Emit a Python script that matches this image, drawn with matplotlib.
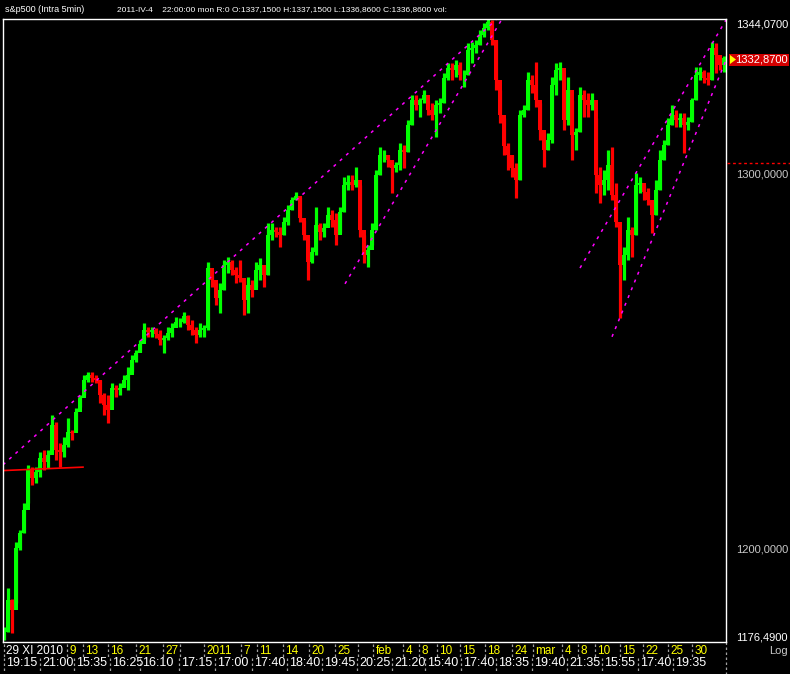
"""
s&p500 intraday 5min candles, dark terminal style
"""
import numpy as np
from matplotlib import pyplot as plt
from matplotlib.lines import Line2D
from matplotlib.patches import Rectangle, Polygon
from matplotlib.ticker import NullLocator

plt.rcParams['font.family'] = ['Liberation Sans Narrow', 'Liberation Sans', 'DejaVu Sans']

UP = '#00ff00'
DOWN = '#ff0000'
MAGENTA = '#ff00ff'
GRAY = '#c8c8c8'
YELLOW = '#ffff00'

first_open = 1178.0
highs = [1180.3, 1190.2, 1187.4, 1201.9, 1205.0, 1212.0, 1221.9, 1221.3, 1221.3, 1225.3,
         1225.8, 1225.8, 1235.0, 1233.2, 1227.6, 1229.2, 1234.2, 1231.0, 1236.8, 1240.3,
         1245.6, 1246.4, 1246.4, 1245.6, 1244.3, 1240.8, 1240.3, 1243.5, 1242.9, 1243.5,
         1245.6, 1247.7, 1250.9, 1252.3, 1255.0, 1259.5, 1258.4, 1258.4, 1258.2, 1257.6,
         1256.3, 1258.4, 1259.5, 1261.1, 1260.9, 1262.5, 1261.7, 1260.3, 1258.4, 1259.5,
         1259.0, 1276.0, 1273.9, 1270.3, 1270.3, 1276.6, 1277.4, 1276.6, 1274.7, 1276.6,
         1271.1, 1272.0, 1271.1, 1276.0, 1277.1, 1274.7, 1286.7, 1286.7, 1285.6, 1285.6,
         1288.4, 1291.7, 1293.9, 1295.3, 1293.9, 1287.6, 1282.1, 1280.1, 1291.1, 1286.7,
         1286.7, 1291.1, 1290.3, 1289.5, 1291.1, 1299.4, 1300.0, 1300.0, 1302.2, 1297.2,
         1283.4, 1280.7, 1286.7, 1301.4, 1307.8, 1307.0, 1305.6, 1304.2, 1303.6, 1308.9,
         1308.4, 1315.4, 1322.4, 1322.4, 1321.6, 1323.8, 1321.0, 1320.2, 1321.0, 1321.6,
         1328.7, 1331.5, 1331.5, 1332.3, 1331.8, 1329.5, 1337.2, 1337.5, 1338.1, 1340.9,
         1342.9, 1344.1, 1343.8, 1338.1, 1323.8, 1315.9, 1308.9, 1305.6, 1303.3, 1318.2,
         1319.6, 1328.9, 1328.1, 1331.8, 1320.2, 1311.7, 1311.7, 1327.5, 1331.5, 1331.8,
         1327.2, 1327.5, 1321.0, 1313.1, 1324.7, 1323.8, 1323.0, 1323.0, 1315.9, 1302.2,
         1301.4, 1307.0, 1307.8, 1297.8, 1280.7, 1280.1, 1288.4, 1285.6, 1300.5, 1299.4,
         1297.2, 1296.4, 1293.1, 1298.6, 1307.0, 1309.8, 1315.9, 1319.6, 1318.2, 1317.3,
         1317.3, 1316.2, 1321.6, 1330.4, 1330.4, 1329.5, 1329.0, 1337.5, 1337.2, 1332.9,
         1333.5]
lows = [1177.0, 1179.0, 1178.8, 1186.4, 1199.9, 1204.2, 1212.0, 1216.7, 1217.2, 1218.7,
        1220.6, 1221.1, 1226.6, 1223.2, 1221.3, 1224.0, 1226.6, 1228.4, 1231.0, 1237.1,
        1240.3, 1243.7, 1243.7, 1243.5, 1238.2, 1235.0, 1232.9, 1239.8, 1239.8, 1240.3,
        1242.4, 1241.6, 1246.4, 1249.1, 1251.7, 1255.0, 1255.8, 1255.8, 1255.5, 1253.6,
        1251.5, 1255.0, 1255.8, 1258.4, 1258.4, 1259.5, 1257.6, 1256.3, 1254.2, 1255.8,
        1255.8, 1257.6, 1269.2, 1264.4, 1262.2, 1268.4, 1273.0, 1272.5, 1270.3, 1270.6,
        1261.7, 1262.2, 1266.5, 1269.2, 1271.1, 1269.2, 1272.5, 1282.1, 1282.9, 1280.1,
        1283.4, 1286.2, 1290.3, 1293.1, 1287.0, 1282.1, 1271.1, 1275.8, 1278.0, 1282.1,
        1282.9, 1285.6, 1285.6, 1280.7, 1284.0, 1289.8, 1295.8, 1295.8, 1296.7, 1282.9,
        1275.8, 1274.7, 1280.7, 1284.8, 1300.0, 1303.6, 1302.2, 1295.0, 1300.8, 1301.4,
        1301.9, 1306.4, 1314.0, 1318.2, 1316.2, 1320.2, 1316.8, 1315.4, 1310.6, 1317.3,
        1320.2, 1326.7, 1326.7, 1327.5, 1326.7, 1324.7, 1328.1, 1331.5, 1334.3, 1336.6,
        1338.9, 1340.9, 1336.6, 1323.8, 1314.5, 1305.6, 1301.4, 1299.4, 1293.6, 1298.6,
        1316.2, 1318.2, 1323.0, 1319.0, 1309.8, 1302.2, 1307.0, 1308.9, 1322.4, 1326.7,
        1312.6, 1314.0, 1304.2, 1307.0, 1312.0, 1316.2, 1316.2, 1318.2, 1295.0, 1292.2,
        1294.4, 1295.8, 1293.1, 1285.6, 1260.9, 1271.1, 1276.6, 1277.4, 1283.4, 1295.0,
        1293.1, 1291.7, 1284.0, 1288.9, 1295.8, 1304.2, 1308.4, 1314.0, 1313.4, 1313.4,
        1306.1, 1312.6, 1314.8, 1321.0, 1326.7, 1325.8, 1325.3, 1326.7, 1328.7, 1329.5,
        1328.9]
closes = [1179.0, 1187.1, 1184.6, 1200.4, 1204.2, 1210.2, 1220.6, 1218.5, 1220.0, 1223.7,
          1222.7, 1224.5, 1232.4, 1225.8, 1225.3, 1227.1, 1230.5, 1230.2, 1235.8, 1239.5,
          1244.3, 1245.6, 1244.8, 1244.3, 1240.3, 1237.6, 1236.3, 1242.1, 1241.6, 1242.1,
          1244.3, 1245.6, 1249.6, 1251.5, 1253.9, 1257.6, 1257.1, 1257.6, 1256.6, 1255.0,
          1255.5, 1256.8, 1258.2, 1259.8, 1259.8, 1261.4, 1259.0, 1257.6, 1256.3, 1257.6,
          1258.2, 1274.4, 1271.1, 1266.3, 1268.4, 1275.2, 1276.0, 1273.9, 1272.5, 1271.7,
          1265.7, 1269.8, 1268.4, 1273.9, 1275.2, 1272.5, 1283.4, 1284.8, 1284.3, 1283.4,
          1287.0, 1290.3, 1293.1, 1294.2, 1288.1, 1283.4, 1276.0, 1278.8, 1286.2, 1284.3,
          1285.4, 1288.9, 1287.6, 1283.4, 1289.8, 1297.2, 1298.0, 1297.2, 1298.6, 1284.8,
          1278.0, 1279.3, 1284.8, 1300.0, 1305.6, 1305.6, 1304.2, 1301.9, 1302.8, 1307.0,
          1306.4, 1314.0, 1321.0, 1319.6, 1321.0, 1322.4, 1318.2, 1316.8, 1319.6, 1320.2,
          1327.2, 1330.1, 1329.5, 1330.9, 1328.1, 1328.1, 1335.2, 1335.8, 1336.6, 1339.5,
          1341.5, 1343.2, 1338.1, 1326.7, 1316.8, 1308.1, 1305.6, 1301.9, 1298.6, 1316.8,
          1318.2, 1326.7, 1325.3, 1321.0, 1312.6, 1307.0, 1309.8, 1325.3, 1329.5, 1330.1,
          1315.4, 1323.8, 1311.2, 1312.0, 1322.4, 1321.0, 1319.6, 1321.0, 1300.0, 1297.2,
          1298.6, 1302.8, 1294.4, 1287.0, 1275.2, 1278.0, 1284.8, 1283.4, 1297.2, 1297.8,
          1295.3, 1293.1, 1288.9, 1295.8, 1304.2, 1308.4, 1314.0, 1316.8, 1315.4, 1315.9,
          1314.0, 1314.8, 1321.0, 1328.1, 1329.0, 1327.2, 1326.7, 1335.8, 1333.8, 1330.9,
          1332.87]

# dashed trend lines: (bar, price) -> (bar, price)
trend_start_bar = [-0.25, 85.25, 144.0, 152.0]
trend_start_price = [1221.9, 1270.1, 1274.4, 1255.8]
trend_end_bar = [123.0, 124.5, 180.5, 180.5]
trend_end_price = [1343.8, 1344.07, 1343.8, 1332.3]

support_bars = [-0.25, 19.75]
support_prices = [1220.4, 1221.3]

y_min, y_max = 1176.49, 1344.07
last_price = 1332.87

date_ticks = [0, 15.75, 19.75, 26, 33, 39.75, 44, 50, 59.25, 63.25, 69.75, 76.25, 82.75,
              88.5, 92.25, 99.75, 103.75, 108.25, 114, 120.25, 127, 132.25, 139.5, 143.5,
              147.75, 154, 159.75, 166, 172]
date_labels = ["29 XI 2010", "9", "13", "16", "21", "27", "", "2011", "7", "11", "14", "20",
               "25", "", "feb", "4", "8", "10", "15", "18", "24", "mar", "4", "8", "10",
               "15", "22", "25", "30"]
time_ticks = [0, 9, 17.5, 26.5, 34, 43.75, 52.75, 62, 70.75, 79.5, 88.25, 97, 105.25,
              114.25, 123, 132, 140.75, 149.5, 158.5, 167.25]
time_labels = ["19:15", "21:00", "15:35", "16:25", "16:10", "17:15", "17:00", "17:40",
               "18:40", "19:45", "20:25", "21:20", "15:40", "17:40", "18:35", "19:40",
               "21:35", "15:55", "17:40", "19:35"]

W, H = 790, 674
fig = plt.figure(figsize=(W / 100, H / 100), dpi=100, facecolor='black')
ax = fig.add_axes([3 / W, 32 / H, 723 / W, 623 / H])
ax.set_facecolor('black')
ax.set_yscale('log')
ax.set_ylim(y_min, y_max)
ax.set_xlim(-0.25, 180.5)
for a in (ax.xaxis, ax.yaxis):
    a.set_major_locator(NullLocator())
    a.set_minor_locator(NullLocator())
for s in ax.spines.values():
    s.set_color('white')
    s.set_linewidth(1.0)

highs = np.array(highs)
lows = np.array(lows)
closes = np.array(closes)
opens = np.concatenate([[first_open], closes[:-1]])
x = np.arange(len(closes))
colors = np.where(closes >= opens, UP, DOWN)

ax.vlines(x, lows, highs, colors=colors, linewidth=2.3)
ax.bar(x, np.abs(closes - opens), bottom=np.minimum(opens, closes), width=0.85,
       color=colors, linewidth=0)

for x0, p0, x1, p1 in zip(trend_start_bar, trend_start_price, trend_end_bar, trend_end_price):
    ax.plot([x0, x1], [p0, p1], color=MAGENTA, lw=1.1, ls=(0, (2, 3.5)))

ax.plot(support_bars, support_prices, color=DOWN, lw=1.2)

# right price scale
def fx(px):
    return px / W

def fy(py):
    return 1 - py / H

ytr = ax.get_yaxis_transform()
xr = (788 - 3) / 723
ax.text(xr, y_max, "1344,0700", transform=ytr, ha='right', va='top', color='white',
        fontsize=8, clip_on=False)
ax.text(xr, 1300, "1300,0000", transform=ytr, ha='right', va='center', color=GRAY,
        fontsize=8, clip_on=False)
ax.text(xr, 1200, "1200,0000", transform=ytr, ha='right', va='center', color=GRAY,
        fontsize=8, clip_on=False)
ax.text(xr, y_min, "1176,4900", transform=ytr, ha='right', va='bottom', color='white',
        fontsize=8, clip_on=False)
fig.text(fx(788), fy(650.5), "Log", ha='right', va='center', color=GRAY, fontsize=8)

fig.add_artist(Rectangle((fx(729), fy(65.5)), 60 / W, 11.5 / H, transform=fig.transFigure,
                         facecolor='#d40000', edgecolor='none', zorder=-1))
fig.add_artist(Polygon([[fx(730), fy(55)], [fx(736), fy(59.5)], [fx(730), fy(64)]],
                       closed=True, transform=fig.transFigure, facecolor=YELLOW,
                       edgecolor='none', zorder=-1))
fig.text(fx(788), fy(59.5), "1332,8700", ha='right', va='center', color='white',
         fontsize=8, zorder=5)
fig.add_artist(Line2D([fx(727), 1], [fy(163)] * 2, transform=fig.transFigure,
                      color=DOWN, lw=1, ls=(0, (2, 2))))

# bottom time scale
xtr = ax.get_xaxis_transform()
for t, lab in zip(date_ticks, date_labels):
    ax.plot([t, t], [-0.003, -0.024], transform=xtr, clip_on=False, color='#a0a0a0',
            lw=0.9, ls=(0, (2, 2)))
    ax.text(t + 0.6, -0.0145, lab, transform=xtr, ha='left', va='center', fontsize=8.5,
            color='white' if lab.startswith("29") else YELLOW)
for t, lab in zip(time_ticks, time_labels):
    ax.plot([t, t], [-0.025, -0.05], transform=xtr, clip_on=False, color='#a0a0a0',
            lw=0.9, ls=(0, (2, 2)))
    ax.text(t + 0.6, -0.0345, lab, transform=xtr, ha='left', va='center', fontsize=9,
            color='white')
ax.plot([180.5, 180.5], [0, -0.052], transform=xtr, clip_on=False, color='#a0a0a0',
        lw=0.9, ls=(0, (2, 2)))

# header
fig.text(fx(5), fy(9.5), "s&p500 (Intra 5min)", ha='left', va='center', color='white',
         fontsize=6.5)
fig.text(fx(117), fy(9.5),
         "2011-IV-4    22:00:00 mon R:0 O:1337,1500 H:1337,1500 L:1336,8600 C:1336,8600 vol:",
         ha='left', va='center', color='white', fontsize=6)

plt.savefig("out.png", facecolor='black')
